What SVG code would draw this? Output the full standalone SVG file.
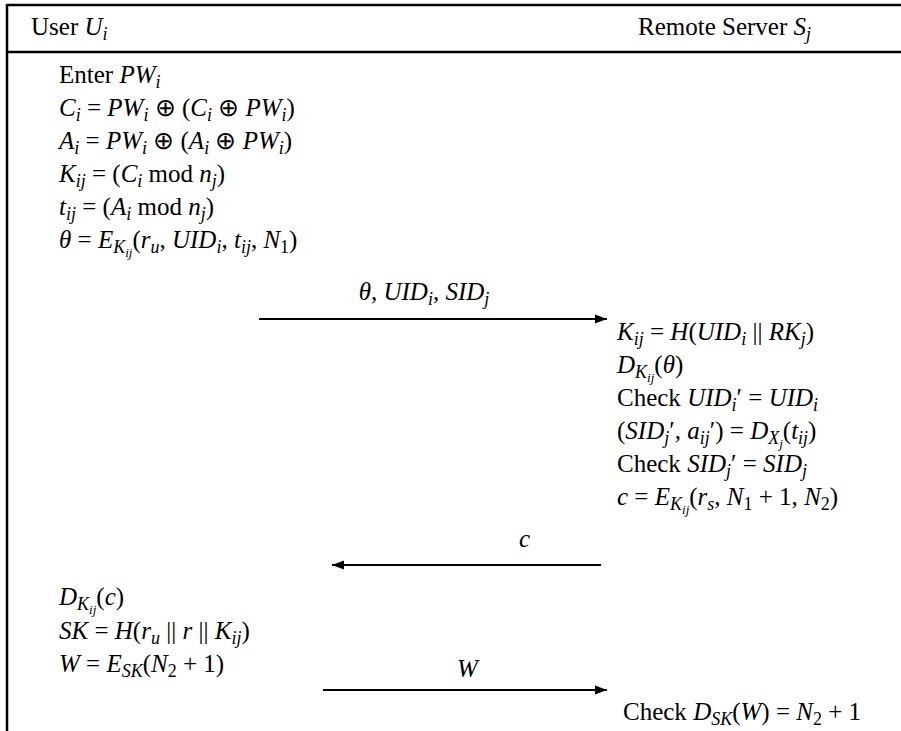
<svg xmlns="http://www.w3.org/2000/svg" width="901" height="731" viewBox="0 0 901 731">
<style>
.t{font-family:"Liberation Serif","Times New Roman",serif;font-size:25px;fill:#000}
.i{font-style:italic}
.s{font-size:18px}
.ss{font-size:13px}
.frame{stroke:#000;stroke-width:2.5;fill:none}
.msg{stroke:#000;stroke-width:1.8;fill:none;marker-end:url(#ah)}
</style>
<defs>
<marker id="ah" markerUnits="userSpaceOnUse" markerWidth="13" markerHeight="11" refX="12" refY="5" orient="auto">
<path d="M0,0.5 L12,5 L0,9.5 z" fill="#000"/>
</marker>
</defs>
<rect width="901" height="731" fill="#fff"/>
<g id="frame">
<line class="frame" x1="7" y1="5" x2="901" y2="5"/>
<line class="frame" x1="7" y1="52" x2="901" y2="52"/>
<line class="frame" x1="7" y1="4" x2="7" y2="731"/>
</g>
<g id="user-header">
<text class="t" x="31" y="35">User <tspan class="i">U</tspan><tspan class="i s" dy="5">i</tspan></text>
</g>
<g id="server-header">
<text class="t" x="638" y="35">Remote Server <tspan class="i">S</tspan><tspan class="i s" dy="5">j</tspan></text>
</g>
<g id="user-step1">
<text class="t" x="59" y="83">Enter <tspan class="i">PW</tspan><tspan class="i s" dy="5">i</tspan></text>
<text class="t" x="59" y="116"><tspan class="i">C</tspan><tspan class="i s" dy="5">i</tspan><tspan dy="-5"> = </tspan><tspan class="i">PW</tspan><tspan class="i s" dy="5">i</tspan><tspan dy="-5"> ⊕ (</tspan><tspan class="i">C</tspan><tspan class="i s" dy="5">i</tspan><tspan dy="-5"> ⊕ </tspan><tspan class="i">PW</tspan><tspan class="i s" dy="5">i</tspan><tspan dy="-5">)</tspan></text>
<text class="t" x="59" y="149"><tspan class="i">A</tspan><tspan class="i s" dy="5">i</tspan><tspan dy="-5"> = </tspan><tspan class="i">PW</tspan><tspan class="i s" dy="5">i</tspan><tspan dy="-5"> ⊕ (</tspan><tspan class="i">A</tspan><tspan class="i s" dy="5">i</tspan><tspan dy="-5"> ⊕ </tspan><tspan class="i">PW</tspan><tspan class="i s" dy="5">i</tspan><tspan dy="-5">)</tspan></text>
<text class="t" x="59" y="182"><tspan class="i">K</tspan><tspan class="i s" dy="5">ij</tspan><tspan dy="-5"> = (</tspan><tspan class="i">C</tspan><tspan class="i s" dy="5">i</tspan><tspan dy="-5"> mod </tspan><tspan class="i">n</tspan><tspan class="i s" dy="5">j</tspan><tspan dy="-5">)</tspan></text>
<text class="t" x="59" y="215"><tspan class="i">t</tspan><tspan class="i s" dy="5">ij</tspan><tspan dy="-5"> = (</tspan><tspan class="i">A</tspan><tspan class="i s" dy="5">i</tspan><tspan dy="-5"> mod </tspan><tspan class="i">n</tspan><tspan class="i s" dy="5">j</tspan><tspan dy="-5">)</tspan></text>
<text class="t" x="59" y="248"><tspan class="i">θ</tspan> = <tspan class="i">E</tspan><tspan class="i s" dy="5">K</tspan><tspan class="i ss" dy="4">ij</tspan><tspan dy="-9">(</tspan><tspan class="i">r</tspan><tspan class="i s" dy="5">u</tspan><tspan dy="-5">, </tspan><tspan class="i">UID</tspan><tspan class="i s" dy="5">i</tspan><tspan dy="-5">, </tspan><tspan class="i">t</tspan><tspan class="i s" dy="5">ij</tspan><tspan dy="-5">, </tspan><tspan class="i">N</tspan><tspan class="s" dy="5">1</tspan><tspan dy="-5">)</tspan></text>
</g>
<g id="server-step1">
<text class="t" x="617" y="340"><tspan class="i">K</tspan><tspan class="i s" dy="5">ij</tspan><tspan dy="-5"> = </tspan><tspan class="i">H</tspan>(<tspan class="i">UID</tspan><tspan class="i s" dy="5">i</tspan><tspan dy="-5"> || </tspan><tspan class="i">RK</tspan><tspan class="i s" dy="5">j</tspan><tspan dy="-5">)</tspan></text>
<text class="t" x="617" y="373"><tspan class="i">D</tspan><tspan class="i s" dy="5">K</tspan><tspan class="i ss" dy="4">ij</tspan><tspan dy="-9">(</tspan><tspan class="i">θ</tspan>)</text>
<text class="t" x="617" y="406">Check <tspan class="i">UID</tspan><tspan class="i s" dy="5">i</tspan><tspan dy="-5">′ = </tspan><tspan class="i">UID</tspan><tspan class="i s" dy="5">i</tspan></text>
<text class="t" x="617" y="439">(<tspan class="i">SID</tspan><tspan class="i s" dy="5">j</tspan><tspan dy="-5">′, </tspan><tspan class="i">a</tspan><tspan class="i s" dy="5">ij</tspan><tspan dy="-5">′) = </tspan><tspan class="i">D</tspan><tspan class="i s" dy="5">X</tspan><tspan class="i ss" dy="4">j</tspan><tspan dy="-9">(</tspan><tspan class="i">t</tspan><tspan class="i s" dy="5">ij</tspan><tspan dy="-5">)</tspan></text>
<text class="t" x="617" y="472">Check <tspan class="i">SID</tspan><tspan class="i s" dy="5">j</tspan><tspan dy="-5">′ = </tspan><tspan class="i">SID</tspan><tspan class="i s" dy="5">j</tspan></text>
<text class="t" x="617" y="505"><tspan class="i">c</tspan> = <tspan class="i">E</tspan><tspan class="i s" dy="5">K</tspan><tspan class="i ss" dy="4">ij</tspan><tspan dy="-9">(</tspan><tspan class="i">r</tspan><tspan class="i s" dy="5">s</tspan><tspan dy="-5">, </tspan><tspan class="i">N</tspan><tspan class="s" dy="5">1</tspan><tspan dy="-5"> + 1, </tspan><tspan class="i">N</tspan><tspan class="s" dy="5">2</tspan><tspan dy="-5">)</tspan></text>
</g>
<g id="user-step2">
<text class="t" x="59" y="605"><tspan class="i">D</tspan><tspan class="i s" dy="5">K</tspan><tspan class="i ss" dy="4">ij</tspan><tspan dy="-9">(</tspan><tspan class="i">c</tspan>)</text>
<text class="t" x="59" y="639"><tspan class="i">SK</tspan> = <tspan class="i">H</tspan>(<tspan class="i">r</tspan><tspan class="i s" dy="5">u</tspan><tspan dy="-5"> || </tspan><tspan class="i">r</tspan> || <tspan class="i">K</tspan><tspan class="i s" dy="5">ij</tspan><tspan dy="-5">)</tspan></text>
<text class="t" x="59" y="672"><tspan class="i">W</tspan> = <tspan class="i">E</tspan><tspan class="i s" dy="5">SK</tspan><tspan dy="-5">(</tspan><tspan class="i">N</tspan><tspan class="s" dy="5">2</tspan><tspan dy="-5"> + 1)</tspan></text>
</g>
<g id="server-step2">
<text class="t" x="623" y="720">Check <tspan class="i">D</tspan><tspan class="i s" dy="5">SK</tspan><tspan dy="-5">(</tspan><tspan class="i">W</tspan>) = <tspan class="i">N</tspan><tspan class="s" dy="5">2</tspan><tspan dy="-5"> + 1</tspan></text>
</g>
<g id="connectors">
<line class="msg" x1="259" y1="319" x2="607" y2="319"/>
<text class="t" x="424" y="300" text-anchor="middle"><tspan class="i">θ</tspan>, <tspan class="i">UID</tspan><tspan class="i s" dy="5">i</tspan><tspan dy="-5">, </tspan><tspan class="i">SID</tspan><tspan class="i s" dy="5">j</tspan></text>
<line class="msg" x1="601" y1="565" x2="332" y2="565"/>
<text class="t i" x="519" y="547">c</text>
<line class="msg" x1="323" y1="690" x2="607" y2="690"/>
<text class="t i" x="457" y="677">W</text>
</g>
</svg>
